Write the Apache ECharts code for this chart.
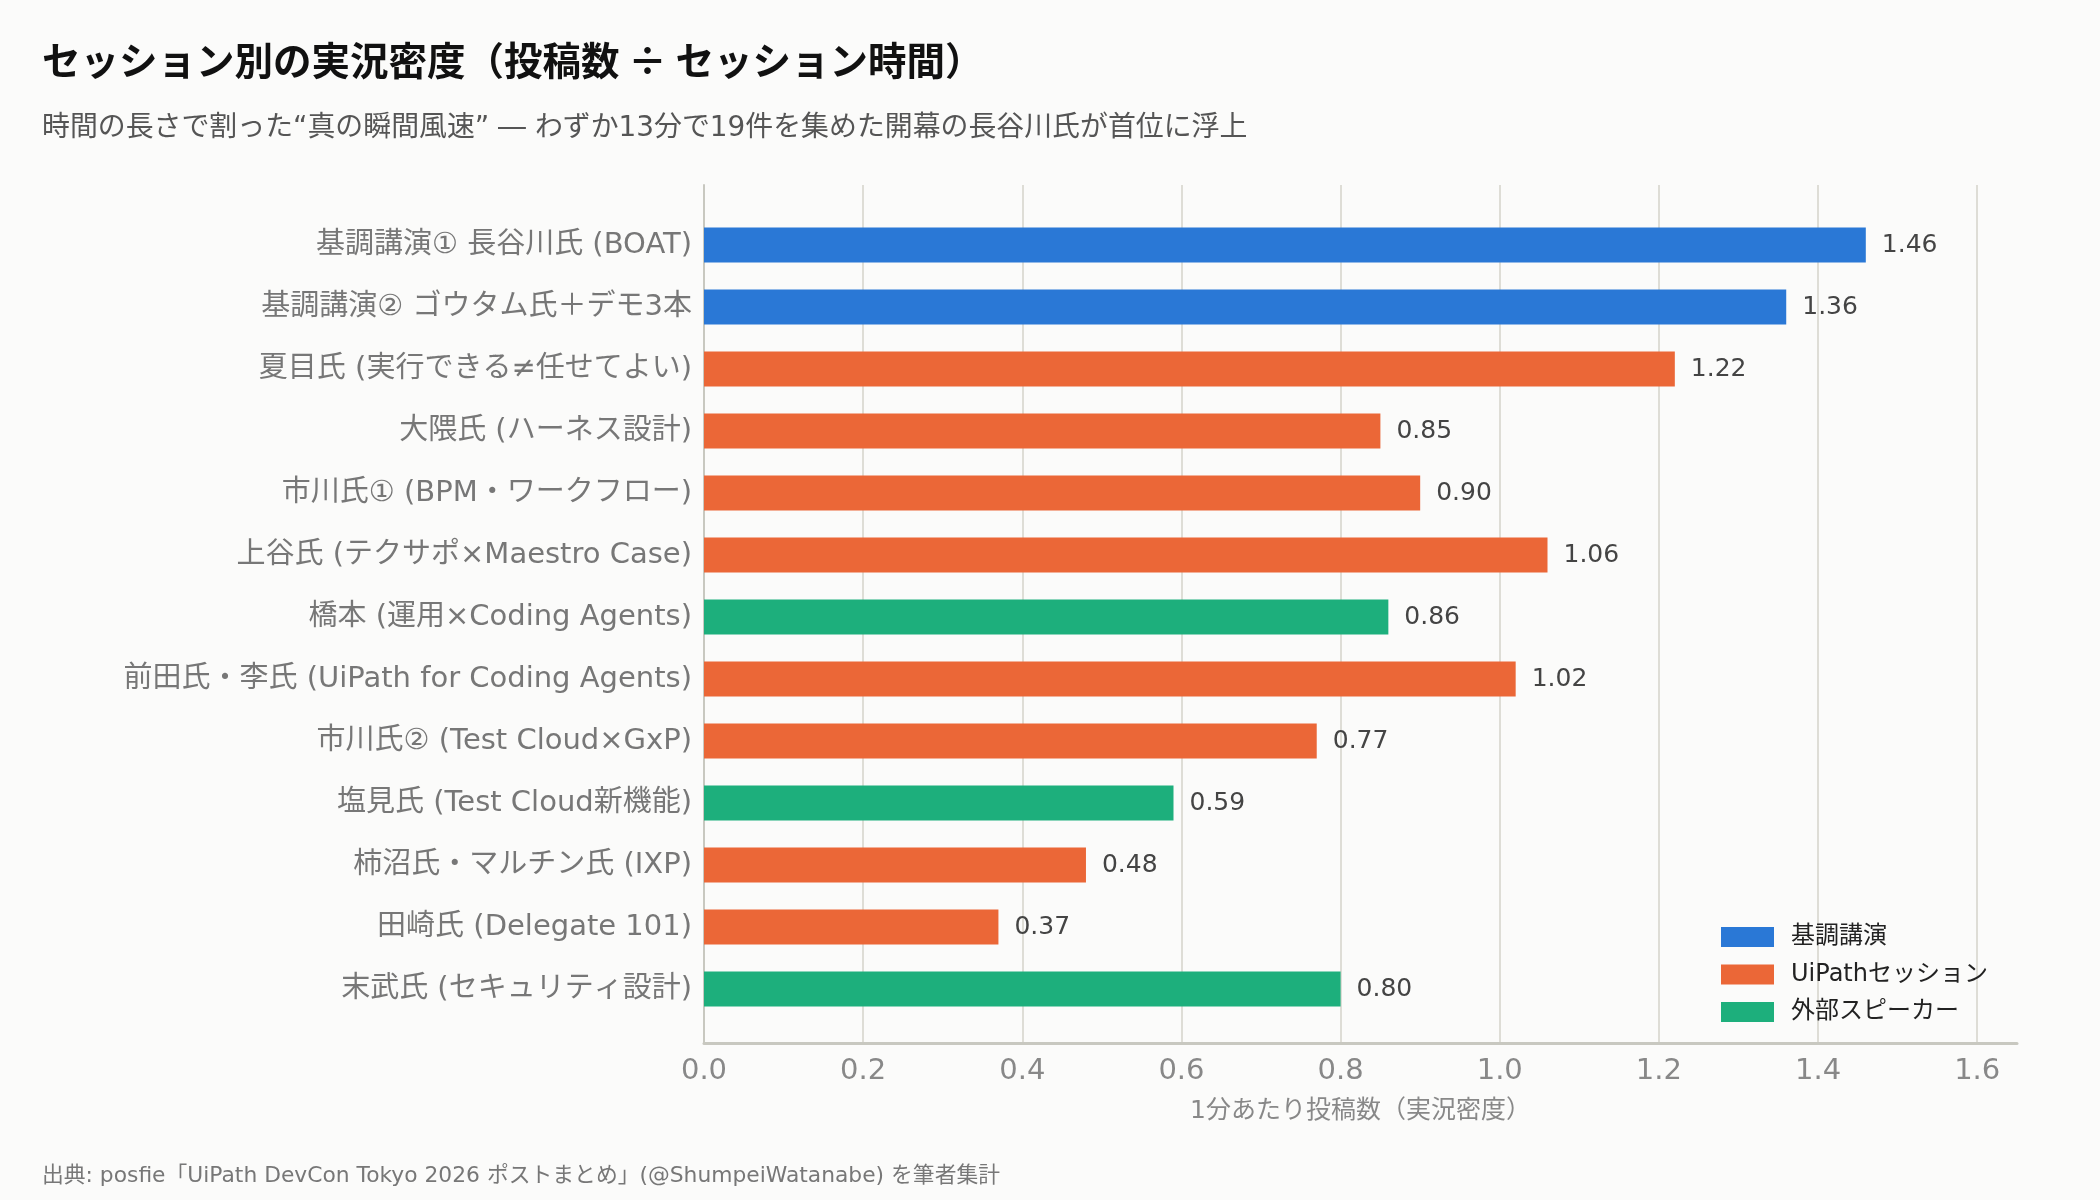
<!DOCTYPE html>
<html lang="ja">
  <head>
    <meta charset="UTF-8" />
    <title>セッション別の実況密度</title>
    <script src="https://cdn.jsdelivr.net/npm/echarts@6.0.0/dist/echarts.min.js"></script>
    <style>
      html, body { margin: 0; padding: 0; background: #fbfbfa; }
      #main { width: 2100px; height: 1200px; }
    </style>
  </head>
  <body>
    <div id="main"></div>

    <script>
      var FONT = "'DejaVu Sans', 'Noto Sans CJK JP', sans-serif"

      // セッション名(上から順)
      var sessions = [
        "基調講演① 長谷川氏 (BOAT)",
        "基調講演② ゴウタム氏＋デモ3本",
        "夏目氏 (実行できる≠任せてよい)",
        "大隈氏 (ハーネス設計)",
        "市川氏① (BPM・ワークフロー)",
        "上谷氏 (テクサポ×Maestro Case)",
        "橋本 (運用×Coding Agents)",
        "前田氏・李氏 (UiPath for Coding Agents)",
        "市川氏② (Test Cloud×GxP)",
        "塩見氏 (Test Cloud新機能)",
        "柿沼氏・マルチン氏 (IXP)",
        "田崎氏 (Delegate 101)",
        "末武氏 (セキュリティ設計)",
      ]
      // 1分あたり投稿数
      var density = [1.46, 1.36, 1.22, 0.85, 0.90, 1.06, 0.86, 1.02, 0.77, 0.59, 0.48, 0.37, 0.80]
      // 区分 0:基調講演 1:UiPathセッション 2:外部スピーカー
      var groupOf = [0, 0, 1, 1, 1, 1, 2, 1, 1, 2, 1, 1, 2]
      var groups = ["基調講演", "UiPathセッション", "外部スピーカー"]
      var colors = ["#2a78d6", "#eb6737", "#1daf7c"]
      var xTicks = [0, 0.2, 0.4, 0.6, 0.8, 1.0, 1.2, 1.4, 1.6]

      var chart = echarts.init(document.getElementById("main"))

      var series = groups.map(function (g, gi) {
        return {
          name: g,
          type: "bar",
          stack: "all",
          xAxisIndex: 0,
          yAxisIndex: 0,
          barWidth: 35,
          itemStyle: { color: colors[gi] },
          label: {
            show: true,
            position: "right",
            distance: 16,
            fontFamily: FONT,
            fontSize: 25,
            color: "#444",
            formatter: function (p) { return Number(p.value).toFixed(2) },
          },
          data: density.map(function (v, i) { return groupOf[i] === gi ? v : "-" }),
        }
      })

      var option = {
        backgroundColor: "#fbfbfa",
        animation: false,
        title: [
          {
            text: "セッション別の実況密度（投稿数 ÷ セッション時間）",
            left: 42, top: 41, padding: 0,
            textStyle: { fontFamily: "'Noto Sans CJK JP', sans-serif", fontSize: 38.5, fontWeight: "bold", color: "#111" },
          },
          {
            text: "時間の長さで割った“真の瞬間風速” ― わずか13分で19件を集めた開幕の長谷川氏が首位に浮上",
            left: 42, top: 115, padding: 0,
            textStyle: { fontFamily: FONT, fontSize: 27.9, fontWeight: "normal", color: "#555" },
          },
          {
            text: "出典: posfie「UiPath DevCon Tokyo 2026 ポストまとめ」(@ShumpeiWatanabe) を筆者集計",
            left: 42, top: 1165, padding: 0,
            textStyle: { fontFamily: FONT, fontSize: 21.8, fontWeight: "normal", color: "#777" },
          },
        ],
        legend: {
          orient: "vertical",
          left: 1716, top: 920,
          itemWidth: 53, itemHeight: 20, itemGap: 13.5,
          icon: "rect",
          textStyle: { fontFamily: FONT, fontSize: 24, color: "#222", padding: [0, 0, 0, 12] },
          data: groups,
        },
        grid: [
          // バー用
          { left: 704, right: 83, top: 214, height: 806 },
          // 枠・目盛り用
          { left: 704, right: 83, top: 185, height: 858 },
        ],
        xAxis: [
          { type: "value", gridIndex: 0, min: 0, max: 1.65, show: false },
          {
            type: "value", gridIndex: 1, min: 0, max: 1.65, interval: 0.2,
            name: "1分あたり投稿数（実況密度）",
            nameLocation: "middle", nameGap: 56,
            nameTextStyle: { fontFamily: FONT, fontSize: 25, color: "#888" },
            axisLine: { show: true, lineStyle: { color: "#c8c8c0", width: 3 } },
            axisTick: { show: false },
            axisLabel: {
              fontFamily: FONT, fontSize: 29, color: "#888", margin: 14,
              showMaxLabel: false,
              formatter: function (v) {
                return xTicks.some(function (t) { return Math.abs(t - v) < 1e-6 }) ? v.toFixed(1) : ""
              },
            },
            splitLine: { show: true, showMaxLine: false, lineStyle: { color: "#deddd6", width: 2 } },
          },
        ],
        yAxis: [
          {
            type: "category", gridIndex: 0, inverse: true,
            data: sessions,
            axisLine: { show: false },
            axisTick: { show: false },
            axisLabel: { fontFamily: FONT, fontSize: 29, color: "#777", margin: 12 },
          },
          {
            type: "value", gridIndex: 1, min: 0, max: 1,
            axisLine: { show: true, lineStyle: { color: "#c8c8c0", width: 2 } },
            axisTick: { show: false },
            axisLabel: { show: false },
            splitLine: { show: false },
          },
        ],
        series: series,
      }

      chart.setOption(option)
    </script>
  </body>
</html>
